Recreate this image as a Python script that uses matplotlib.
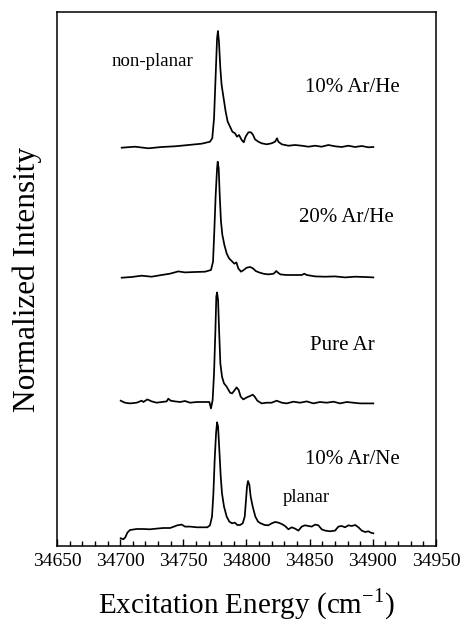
import numpy as np
import matplotlib.pyplot as plt
from matplotlib.ticker import MultipleLocator

plt.rcParams['font.family'] = ['Liberation Serif', 'DejaVu Serif']
plt.rcParams['mathtext.fontset'] = 'custom'
plt.rcParams['mathtext.rm'] = 'Liberation Serif'

# excitation spectra, energy (cm-1) and normalized intensity above baseline
e_arhe10 = [34701.2, 34711.7, 34722.3, 34732.8, 34743.4, 34754.0, 34764.5, 34771.1, 34772.9,
            34774.3, 34775.6, 34776.7, 34777.4, 34778.2, 34779.3, 34780.3, 34781.9, 34783.5,
            34785.1, 34787.0, 34788.8, 34790.9, 34792.5, 34794.1, 34796.2, 34797.8, 34799.3,
            34801.5, 34803.6, 34805.2, 34806.7, 34809.4, 34812.0, 34816.0, 34819.9, 34822.6,
            34824.2, 34825.2, 34827.9, 34833.1, 34838.4, 34843.7, 34849.0, 34854.3, 34859.5,
            34864.8, 34870.1, 34875.4, 34880.6, 34885.9, 34891.2, 34896.5, 34900.4]
i_arhe10 = [-0.007, 0.003, -0.013, 0.0, 0.007, 0.02, 0.033, 0.053, 0.087,
            0.287, 0.72, 1.087, 1.16, 1.053, 0.787, 0.62, 0.487, 0.353,
            0.253, 0.203, 0.153, 0.137, 0.103, 0.12, 0.07, 0.047, 0.103,
            0.147, 0.147, 0.12, 0.077, 0.053, 0.037, 0.027, 0.037, 0.053,
            0.087, 0.053, 0.027, 0.013, 0.02, 0.013, 0.003, 0.013, 0.003,
            0.02, 0.007, 0.0, 0.013, 0.0, 0.01, -0.003, 0.0]

e_arhe20 = [34701.2, 34709.1, 34717.0, 34724.9, 34732.8, 34739.4, 34746.0, 34751.3, 34759.2,
            34767.2, 34771.9, 34773.5, 34774.5, 34775.6, 34776.7, 34777.2, 34778.0, 34778.8,
            34779.8, 34780.9, 34782.5, 34784.3, 34786.2, 34788.3, 34790.4, 34792.0, 34793.5,
            34795.7, 34797.8, 34800.1, 34802.8, 34805.2, 34807.3, 34809.9, 34813.3, 34817.3,
            34821.5, 34823.6, 34824.7, 34826.8, 34831.8, 34838.4, 34843.7, 34845.8, 34847.6,
            34854.3, 34862.2, 34870.1, 34878.0, 34885.9, 34893.8, 34900.4]
i_arhe20 = [-0.01, -0.003, 0.01, 0.0, 0.017, 0.03, 0.053, 0.043, 0.047,
            0.05, 0.067, 0.15, 0.45, 0.817, 1.083, 1.15, 1.083, 0.817,
            0.55, 0.417, 0.317, 0.233, 0.183, 0.157, 0.13, 0.143, 0.083,
            0.05, 0.067, 0.09, 0.097, 0.083, 0.057, 0.043, 0.03, 0.023,
            0.03, 0.057, 0.043, 0.023, 0.017, 0.017, 0.017, 0.03, 0.017,
            0.003, 0.0, 0.003, -0.007, 0.0, -0.003, -0.007]

e_ar = [34700.4, 34703.8, 34707.8, 34713.1, 34717.0, 34718.4, 34721.5, 34725.0, 34728.9,
        34732.9, 34736.8, 34738.1, 34740.0, 34743.4, 34747.4, 34751.3, 34755.3, 34760.6,
        34765.9, 34770.6, 34771.9, 34773.2, 34774.3, 34775.4, 34776.1, 34776.7, 34777.5,
        34778.3, 34779.3, 34780.6, 34782.2, 34784.3, 34787.0, 34788.6, 34790.7, 34792.2,
        34793.8, 34795.4, 34797.5, 34800.2, 34802.8, 34804.9, 34806.5, 34808.6, 34812.0,
        34816.0, 34819.9, 34823.9, 34827.9, 34831.8, 34837.1, 34842.4, 34847.7, 34852.9,
        34858.2, 34863.5, 34868.8, 34874.1, 34879.3, 34884.6, 34889.9, 34895.2, 34900.4]
i_ar = [0.02, 0.0, -0.007, 0.0, 0.02, 0.007, 0.033, 0.013, 0.0,
        0.007, 0.013, 0.04, 0.02, 0.013, 0.007, 0.017, 0.0, 0.007,
        0.007, 0.007, -0.057, 0.027, 0.293, 0.727, 1.06, 1.103, 1.027,
        0.727, 0.393, 0.26, 0.193, 0.16, 0.1, 0.093, 0.127, 0.153,
        0.127, 0.06, 0.033, 0.053, 0.067, 0.08, 0.06, 0.02, -0.007,
        0.0, 0.0, 0.02, 0.0, -0.007, 0.01, 0.0, 0.013, -0.007,
        0.007, 0.0, 0.01, -0.007, 0.007, 0.0, -0.007, -0.007, -0.007]

e_arne10 = [34700.4, 34702.5, 34704.1, 34705.7, 34707.8, 34713.1, 34718.4, 34723.6, 34728.9,
            34734.2, 34739.5, 34742.6, 34745.3, 34748.7, 34751.3, 34755.3, 34760.6, 34765.9,
            34769.0, 34771.1, 34772.7, 34773.8, 34774.8, 34775.9, 34776.7, 34777.5, 34778.5,
            34779.6, 34780.6, 34782.2, 34784.3, 34786.4, 34788.6, 34790.7, 34792.8, 34794.9,
            34797.0, 34798.6, 34799.6, 34800.4, 34801.2, 34802.3, 34803.3, 34804.9, 34807.0,
            34809.1, 34811.2, 34814.4, 34817.3, 34820.0, 34822.6, 34825.2, 34827.9, 34830.5,
            34833.2, 34835.8, 34838.4, 34841.1, 34843.7, 34846.3, 34849.0, 34851.6, 34854.3,
            34856.9, 34859.5, 34862.2, 34866.1, 34870.1, 34872.7, 34875.4, 34878.0, 34880.7,
            34883.3, 34886.0, 34888.6, 34891.2, 34893.9, 34896.5, 34898.3, 34900.4]
i_arne10 = [-0.1, -0.11, -0.09, -0.043, -0.017, -0.007, -0.007, -0.01, -0.003,
            0.003, 0.003, 0.017, 0.03, 0.037, 0.017, 0.017, 0.01, 0.01,
            0.01, 0.03, 0.117, 0.35, 0.683, 0.95, 1.06, 1.017, 0.783,
            0.517, 0.35, 0.217, 0.117, 0.067, 0.05, 0.057, 0.033, 0.033,
            0.05, 0.117, 0.283, 0.417, 0.473, 0.433, 0.317, 0.217, 0.117,
            0.067, 0.05, 0.033, 0.03, 0.05, 0.063, 0.057, 0.043, 0.023,
            -0.01, 0.01, -0.003, -0.023, 0.017, 0.03, 0.023, 0.017, 0.037,
            0.03, -0.01, -0.023, -0.03, -0.023, 0.017, 0.023, 0.01, 0.03,
            0.023, 0.033, 0.01, -0.023, -0.037, -0.03, -0.043, -0.05]

# vertical stacking of the four spectra
offsets = [3.99, 2.693, 1.433, 0.177]

fig = plt.figure(figsize=(4.62, 6.26), dpi=100)
ax = fig.add_axes([57 / 462, 80 / 626, 379 / 462, 534 / 626])

spectra = [(e_arhe10, i_arhe10), (e_arhe20, i_arhe20), (e_ar, i_ar), (e_arne10, i_arne10)]
for (e, i), off in zip(spectra, offsets):
    ax.plot(e, np.array(i) + off, color='black', lw=1.25)

ax.set_xlim(34650, 34950)
ax.set_ylim(0, 5.34)
ax.xaxis.set_major_locator(MultipleLocator(50))
ax.xaxis.set_minor_locator(MultipleLocator(10))
ax.tick_params(axis='x', which='both', direction='in', labelsize=14, pad=5, width=1)
ax.tick_params(axis='x', which='major', length=5)
ax.tick_params(axis='x', which='minor', length=3.5)
ax.set_yticks([])
for s in ax.spines.values():
    s.set_linewidth(1.1)

ax.set_xlabel(r'Excitation Energy (cm$^{\mathregular{-1}}$)', fontsize=21, labelpad=12)
ax.set_ylabel('Normalized Intensity', fontsize=22.5, labelpad=11)

ax.text(34725.2, 4.84, 'non-planar', fontsize=13.5, ha='center', va='center')
ax.text(34883.6, 4.58, '10% Ar/He', fontsize=15, ha='center', va='center')
ax.text(34878.8, 3.29, '20% Ar/He', fontsize=15, ha='center', va='center')
ax.text(34875.7, 2.01, 'Pure Ar', fontsize=15, ha='center', va='center')
ax.text(34883.6, 0.86, '10% Ar/Ne', fontsize=15, ha='center', va='center')
ax.text(34847.1, 0.48, 'planar', fontsize=13.5, ha='center', va='center')

fig.savefig('out.png', dpi=100)
